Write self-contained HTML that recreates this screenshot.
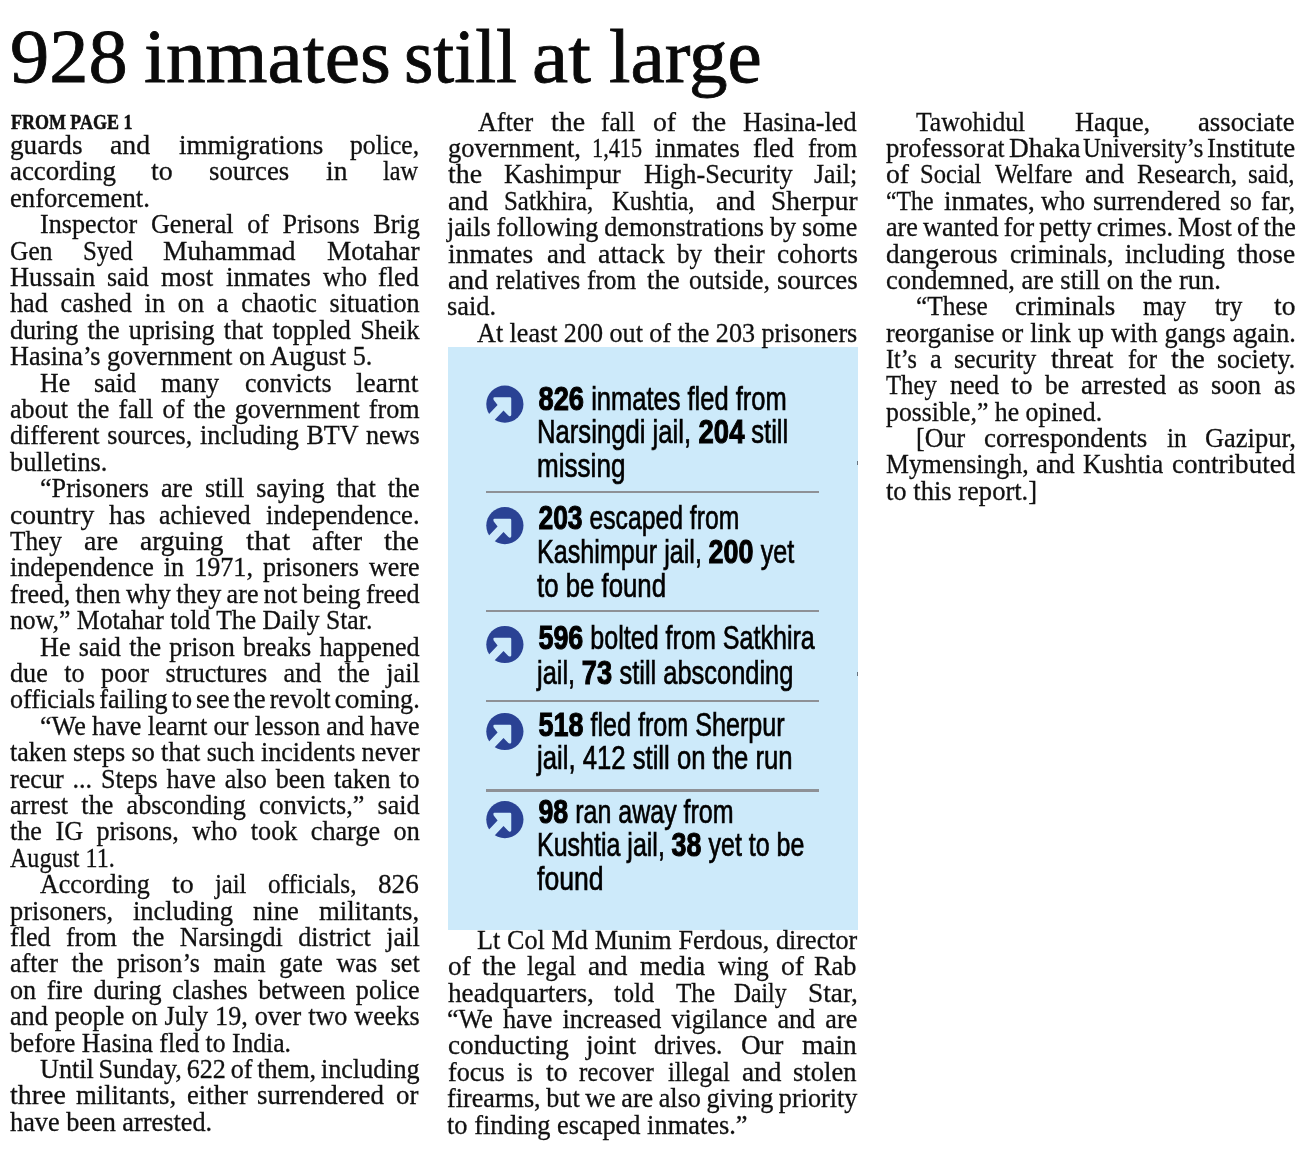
<!DOCTYPE html>
<html><head><meta charset="utf-8"><title>928 inmates still at large</title>
<style>
html,body{margin:0;padding:0;background:#fff;}
html{width:1306px;height:1156px;overflow:hidden;}
body{width:1306px;height:1156px;position:relative;overflow:hidden;font-family:"Liberation Serif",serif;color:#111;}
.l{-webkit-text-stroke:0.3px #111;position:absolute;white-space:pre;font-size:28.0px;line-height:30.0px;transform-origin:0 0;transform:scaleX(0.93393);}
.h{-webkit-text-stroke:0.8px #0a0a0a;position:absolute;white-space:pre;font-size:76.0px;line-height:80.0px;transform-origin:0 0;color:#0a0a0a;}
.fp{-webkit-text-stroke:0.5px #111;position:absolute;white-space:pre;font-size:20.0px;line-height:24px;font-weight:bold;transform-origin:0 0;}
.tx{position:absolute;left:0;top:0;width:1306px;height:1156px;will-change:transform;}
.box{position:absolute;left:448px;top:347.1px;width:410px;height:582.5px;background:#cdeafa;}
.t{-webkit-text-stroke:0.7px #000;position:absolute;left:537.2px;white-space:pre;font-family:"Liberation Sans",sans-serif;font-size:34.0px;line-height:36.0px;color:#000;transform-origin:0 0;transform:scaleX(0.74412);}
.t b{-webkit-text-stroke:1.1px #000;display:inline-block;transform-origin:0 50%;transform:scaleX(1.07);}
.mk{position:absolute;left:856.8px;width:1.2px;height:4.2px;background:#66737f;}
.sep{position:absolute;left:486.3px;width:332.6px;height:2.2px;background:#8e9196;}
.ic{position:absolute;overflow:hidden;}
</style></head><body>
<div class="tx">
<div class="h" style="left:10.10px;top:16.35px;transform:scaleX(1.0313)">928</div>
<div class="h" style="left:143.50px;top:16.35px;transform:scaleX(1.0442)">inmates</div>
<div class="h" style="left:404.00px;top:16.35px;transform:scaleX(0.9914)">still</div>
<div class="h" style="left:532.00px;top:16.35px;transform:scaleX(1.0726)">at</div>
<div class="h" style="left:608.50px;top:16.35px;transform:scaleX(1.0142)">large</div>
<div class="fp" style="left:10.6px;top:110.00px;transform:scaleX(0.898)">FROM PAGE 1</div>
</div>
<div class="box"></div>
<div class="sep" style="top:490.55px"></div>
<div class="sep" style="top:609.60px"></div>
<div class="sep" style="top:699.55px"></div>
<div class="sep" style="top:789.40px"></div>
<div class="mk" style="top:460.9px"></div><div class="mk" style="top:671.9px"></div>
<svg class="ic" style="left:485px;top:384px" width="40" height="40" viewBox="0 0 40 40"><g transform="translate(1.27 1.50) scale(1.0054)"><circle cx="18.5" cy="18.5" r="18.5" fill="#2a4294"/><path d="M7.1 12.6 Q7.1 11.7 8.2 11.7 L23.7 11.7 Q24.85 11.7 24.85 12.9 L24.85 29.2 Q24.8 30.8 23.15 30.5 Q22.3 30.3 21.7 29.7 L17.15 24.95 L5 37.7 L-2 33.4 L11.25 19.4 L7.4 14.4 Q7.0 13.6 7.1 12.6 Z" fill="#cdeafa"/></g></svg>
<svg class="ic" style="left:485px;top:506px" width="40" height="40" viewBox="0 0 40 40"><g transform="translate(1.27 1.00) scale(1.0054)"><circle cx="18.5" cy="18.5" r="18.5" fill="#2a4294"/><path d="M7.1 12.6 Q7.1 11.7 8.2 11.7 L23.7 11.7 Q24.85 11.7 24.85 12.9 L24.85 29.2 Q24.8 30.8 23.15 30.5 Q22.3 30.3 21.7 29.7 L17.15 24.95 L5 37.7 L-2 33.4 L11.25 19.4 L7.4 14.4 Q7.0 13.6 7.1 12.6 Z" fill="#cdeafa"/></g></svg>
<svg class="ic" style="left:485px;top:624px" width="40" height="40" viewBox="0 0 40 40"><g transform="translate(1.27 1.90) scale(1.0054)"><circle cx="18.5" cy="18.5" r="18.5" fill="#2a4294"/><path d="M7.1 12.6 Q7.1 11.7 8.2 11.7 L23.7 11.7 Q24.85 11.7 24.85 12.9 L24.85 29.2 Q24.8 30.8 23.15 30.5 Q22.3 30.3 21.7 29.7 L17.15 24.95 L5 37.7 L-2 33.4 L11.25 19.4 L7.4 14.4 Q7.0 13.6 7.1 12.6 Z" fill="#cdeafa"/></g></svg>
<svg class="ic" style="left:485px;top:711px" width="40" height="40" viewBox="0 0 40 40"><g transform="translate(1.27 1.90) scale(1.0054)"><circle cx="18.5" cy="18.5" r="18.5" fill="#2a4294"/><path d="M7.1 12.6 Q7.1 11.7 8.2 11.7 L23.7 11.7 Q24.85 11.7 24.85 12.9 L24.85 29.2 Q24.8 30.8 23.15 30.5 Q22.3 30.3 21.7 29.7 L17.15 24.95 L5 37.7 L-2 33.4 L11.25 19.4 L7.4 14.4 Q7.0 13.6 7.1 12.6 Z" fill="#cdeafa"/></g></svg>
<svg class="ic" style="left:485px;top:800px" width="40" height="40" viewBox="0 0 40 40"><g transform="translate(1.27 1.00) scale(1.0054)"><circle cx="18.5" cy="18.5" r="18.5" fill="#2a4294"/><path d="M7.1 12.6 Q7.1 11.7 8.2 11.7 L23.7 11.7 Q24.85 11.7 24.85 12.9 L24.85 29.2 Q24.8 30.8 23.15 30.5 Q22.3 30.3 21.7 29.7 L17.15 24.95 L5 37.7 L-2 33.4 L11.25 19.4 L7.4 14.4 Q7.0 13.6 7.1 12.6 Z" fill="#cdeafa"/></g></svg>
<div class="tx">
<div class="t" style="top:379.55px;transform:scaleX(0.74957)"><b style="margin-left:2.1px;margin-right:0.1168em">826</b> inmates fled from</div>
<div class="t" style="top:413.30px;transform:scaleX(0.75502)">Narsingdi jail, <b style="margin-right:0.1168em">204</b> still</div>
<div class="t" style="top:446.86px;transform:scaleX(0.76724)">missing</div>
<div class="t" style="top:498.95px;transform:scaleX(0.72677)"><b style="margin-left:2.1px;margin-right:0.1168em">203</b> escaped from</div>
<div class="t" style="top:533.10px;transform:scaleX(0.73952)">Kashimpur jail, <b style="margin-right:0.1168em">200</b> yet</div>
<div class="t" style="top:566.60px;transform:scaleX(0.75844)">to be found</div>
<div class="t" style="top:619.40px;transform:scaleX(0.73774)"><b style="margin-left:2.1px;margin-right:0.1168em">596</b> bolted from Satkhira</div>
<div class="t" style="top:653.60px;transform:scaleX(0.74764)">jail, <b style="margin-right:0.0778em">73</b> still absconding</div>
<div class="t" style="top:706.30px;transform:scaleX(0.73933)"><b style="margin-left:2.1px;margin-right:0.1168em">518</b> fled from Sherpur</div>
<div class="t" style="top:739.45px;transform:scaleX(0.75544)">jail, 412 still on the run</div>
<div class="t" style="top:793.10px;transform:scaleX(0.73510)"><b style="margin-left:2.1px;margin-right:0.0778em">98</b> ran away from</div>
<div class="t" style="top:826.40px;transform:scaleX(0.73529)">Kushtia jail, <b style="margin-right:0.0778em">38</b> yet to be</div>
<div class="t" style="top:859.55px;transform:scaleX(0.78271)">found</div>
<div class="l" style="left:9.57px;top:129.97px;transform:scaleX(0.9708)">guards</div>
<div class="l" style="left:110.39px;top:129.97px;transform:scaleX(0.9915)">and</div>
<div class="l" style="left:178.82px;top:129.97px;transform:scaleX(0.9660)">immigrations</div>
<div class="l" style="left:350.09px;top:129.97px;transform:scaleX(0.9167)">police,</div>
<div class="l" style="left:9.57px;top:156.37px;transform:scaleX(0.9590)">according</div>
<div class="l" style="left:151.45px;top:156.37px;transform:scaleX(0.9977)">to</div>
<div class="l" style="left:208.87px;top:156.37px;transform:scaleX(0.9544)">sources</div>
<div class="l" style="left:326.05px;top:156.37px;transform:scaleX(0.9824)">in</div>
<div class="l" style="left:383.47px;top:156.37px;transform:scaleX(0.8677)">law</div>
<div class="l" style="left:9.60px;top:182.77px;transform:scaleX(0.95175);">enforcement.</div>
<div class="l" style="left:39.60px;top:209.17px;word-spacing:7.551px;">Inspector General of Prisons Brig</div>
<div class="l" style="left:10.23px;top:235.57px;transform:scaleX(0.9094)">Gen</div>
<div class="l" style="left:83.01px;top:235.57px;transform:scaleX(0.8888)">Syed</div>
<div class="l" style="left:163.13px;top:235.57px;transform:scaleX(0.9797)">Muhammad</div>
<div class="l" style="left:326.72px;top:235.57px;transform:scaleX(0.9752)">Motahar</div>
<div class="l" style="left:10.23px;top:261.97px;transform:scaleX(0.9438)">Hussain</div>
<div class="l" style="left:107.05px;top:261.97px;transform:scaleX(0.9258)">said</div>
<div class="l" style="left:160.80px;top:261.97px;transform:scaleX(0.9567)">most</div>
<div class="l" style="left:225.90px;top:261.97px;transform:scaleX(0.9740)">inmates</div>
<div class="l" style="left:322.71px;top:261.97px;transform:scaleX(0.9143)">who</div>
<div class="l" style="left:378.46px;top:261.97px;transform:scaleX(0.9364)">fled</div>
<div class="l" style="left:9.60px;top:288.36px;word-spacing:6.763px;">had cashed in on a chaotic situation</div>
<div class="l" style="left:9.60px;top:314.76px;word-spacing:2.968px;">during the uprising that toppled Sheik</div>
<div class="l" style="left:9.60px;top:341.16px;transform:scaleX(0.93756);">Hasina’s government on August 5.</div>
<div class="l" style="left:39.61px;top:367.56px;transform:scaleX(0.9211)">He</div>
<div class="l" style="left:94.03px;top:367.56px;transform:scaleX(0.9332)">said</div>
<div class="l" style="left:161.46px;top:367.56px;transform:scaleX(0.9341)">many</div>
<div class="l" style="left:244.93px;top:367.56px;transform:scaleX(0.9270)">convicts</div>
<div class="l" style="left:356.10px;top:367.56px;transform:scaleX(0.9798)">learnt</div>
<div class="l" style="left:9.60px;top:393.96px;word-spacing:2.877px;">about the fall of the government from</div>
<div class="l" style="left:9.60px;top:420.36px;word-spacing:1.253px;">different sources, including BTV news</div>
<div class="l" style="left:9.60px;top:446.76px;transform:scaleX(0.94180);">bulletins.</div>
<div class="l" style="left:39.60px;top:473.16px;word-spacing:5.884px;">“Prisoners are still saying that the</div>
<div class="l" style="left:9.57px;top:499.56px;transform:scaleX(0.9840)">country</div>
<div class="l" style="left:109.05px;top:499.56px;transform:scaleX(0.9757)">has</div>
<div class="l" style="left:159.13px;top:499.56px;transform:scaleX(0.9197)">achieved</div>
<div class="l" style="left:265.62px;top:499.56px;transform:scaleX(0.9545)">independence.</div>
<div class="l" style="left:9.57px;top:525.96px;transform:scaleX(0.9000)">They</div>
<div class="l" style="left:83.68px;top:525.96px;transform:scaleX(0.9970)">are</div>
<div class="l" style="left:139.76px;top:525.96px;transform:scaleX(0.9819)">arguing</div>
<div class="l" style="left:245.93px;top:525.96px;transform:scaleX(1.0500)">that</div>
<div class="l" style="left:312.36px;top:525.96px;transform:scaleX(0.9768)">after</div>
<div class="l" style="left:384.14px;top:525.96px;transform:scaleX(1.0253)">the</div>
<div class="l" style="left:9.60px;top:552.35px;word-spacing:3.734px;">independence in 1971, prisoners were</div>
<div class="l" style="left:9.60px;top:578.75px;word-spacing:-1.304px;">freed, then why they are not being freed</div>
<div class="l" style="left:9.60px;top:605.15px;transform:scaleX(0.91720);">now,” Motahar told The Daily Star.</div>
<div class="l" style="left:39.60px;top:631.55px;word-spacing:1.847px;">He said the prison breaks happened</div>
<div class="l" style="left:9.60px;top:657.95px;word-spacing:10.648px;">due to poor structures and the jail</div>
<div class="l" style="left:9.60px;top:684.35px;word-spacing:-2.612px;">officials failing to see the revolt coming.</div>
<div class="l" style="left:39.60px;top:710.75px;word-spacing:-0.281px;">“We have learnt our lesson and have</div>
<div class="l" style="left:9.60px;top:737.15px;word-spacing:-0.240px;">taken steps so that such incidents never</div>
<div class="l" style="left:9.60px;top:763.55px;word-spacing:2.466px;">recur ... Steps have also been taken to</div>
<div class="l" style="left:9.60px;top:789.95px;word-spacing:7.230px;">arrest the absconding convicts,” said</div>
<div class="l" style="left:9.60px;top:816.34px;word-spacing:7.489px;">the IG prisons, who took charge on</div>
<div class="l" style="left:9.60px;top:842.74px;transform:scaleX(0.85919);">August 11.</div>
<div class="l" style="left:39.61px;top:869.14px;transform:scaleX(0.9296)">According</div>
<div class="l" style="left:172.15px;top:869.14px;transform:scaleX(0.9977)">to</div>
<div class="l" style="left:214.88px;top:869.14px;transform:scaleX(0.8783)">jail</div>
<div class="l" style="left:268.29px;top:869.14px;transform:scaleX(0.9009)">officials,</div>
<div class="l" style="left:378.46px;top:869.14px;transform:scaleX(0.9705)">826</div>
<div class="l" style="left:9.57px;top:895.54px;transform:scaleX(0.9410)">prisoners,</div>
<div class="l" style="left:133.09px;top:895.54px;transform:scaleX(0.9441)">including</div>
<div class="l" style="left:253.27px;top:895.54px;transform:scaleX(0.9492)">nine</div>
<div class="l" style="left:319.04px;top:895.54px;transform:scaleX(0.9541)">militants,</div>
<div class="l" style="left:9.60px;top:921.94px;word-spacing:9.512px;">fled from the Narsingdi district jail</div>
<div class="l" style="left:9.60px;top:948.34px;word-spacing:7.541px;">after the prison’s main gate was set</div>
<div class="l" style="left:9.60px;top:974.74px;word-spacing:4.234px;">on fire during clashes between police</div>
<div class="l" style="left:9.60px;top:1001.14px;word-spacing:0.459px;">and people on July 19, over two weeks</div>
<div class="l" style="left:9.60px;top:1027.54px;transform:scaleX(0.91495);">before Hasina fled to India.</div>
<div class="l" style="left:39.60px;top:1053.93px;word-spacing:-1.853px;">Until Sunday, 622 of them, including</div>
<div class="l" style="left:10.23px;top:1080.33px;transform:scaleX(0.9967)">three</div>
<div class="l" style="left:76.33px;top:1080.33px;transform:scaleX(0.9541)">militants,</div>
<div class="l" style="left:186.50px;top:1080.33px;transform:scaleX(0.9536)">either</div>
<div class="l" style="left:257.28px;top:1080.33px;transform:scaleX(0.9602)">surrendered</div>
<div class="l" style="left:396.16px;top:1080.33px;transform:scaleX(0.9602)">or</div>
<div class="l" style="left:9.60px;top:1106.73px;transform:scaleX(0.93859);">have been arrested.</div>
<div class="l" style="left:477.95px;top:106.65px;transform:scaleX(0.9329)">After</div>
<div class="l" style="left:550.73px;top:106.65px;transform:scaleX(0.9961)">the</div>
<div class="l" style="left:601.47px;top:106.65px;transform:scaleX(0.9135)">fall</div>
<div class="l" style="left:652.55px;top:106.65px;transform:scaleX(0.9888)">of</div>
<div class="l" style="left:691.94px;top:106.65px;transform:scaleX(0.9961)">the</div>
<div class="l" style="left:743.35px;top:106.65px;transform:scaleX(0.9360)">Hasina-led</div>
<div class="l" style="left:447.90px;top:133.02px;transform:scaleX(0.9442)">government,</div>
<div class="l" style="left:592.46px;top:133.02px;transform:scaleX(0.7954)">1,415</div>
<div class="l" style="left:655.22px;top:133.02px;transform:scaleX(0.9740)">inmates</div>
<div class="l" style="left:753.37px;top:133.02px;transform:scaleX(0.9364)">fled</div>
<div class="l" style="left:807.79px;top:133.02px;transform:scaleX(0.9021)">from</div>
<div class="l" style="left:447.90px;top:159.39px;transform:scaleX(0.9961)">the</div>
<div class="l" style="left:503.99px;top:159.39px;transform:scaleX(0.9392)">Kashimpur</div>
<div class="l" style="left:644.20px;top:159.39px;transform:scaleX(0.9367)">High-Security</div>
<div class="l" style="left:814.46px;top:159.39px;transform:scaleX(0.9234)">Jail;</div>
<div class="l" style="left:447.90px;top:185.76px;transform:scaleX(0.9915)">and</div>
<div class="l" style="left:503.99px;top:185.76px;transform:scaleX(0.8889)">Satkhira,</div>
<div class="l" style="left:612.49px;top:185.76px;transform:scaleX(0.8766)">Kushtia,</div>
<div class="l" style="left:715.98px;top:185.76px;transform:scaleX(0.9667)">and</div>
<div class="l" style="left:771.06px;top:185.76px;transform:scaleX(0.9757)">Sherpur</div>
<div class="l" style="left:447.30px;top:212.13px;word-spacing:-0.606px;">jails following demonstrations by some</div>
<div class="l" style="left:447.90px;top:238.50px;transform:scaleX(0.9778)">inmates</div>
<div class="l" style="left:546.72px;top:238.50px;transform:scaleX(0.9585)">and</div>
<div class="l" style="left:598.13px;top:238.50px;transform:scaleX(0.9994)">attack</div>
<div class="l" style="left:676.59px;top:238.50px;transform:scaleX(0.8954)">by</div>
<div class="l" style="left:714.31px;top:238.50px;transform:scaleX(0.9896)">their</div>
<div class="l" style="left:776.74px;top:238.50px;transform:scaleX(0.9804)">cohorts</div>
<div class="l" style="left:447.90px;top:264.87px;transform:scaleX(0.9915)">and</div>
<div class="l" style="left:496.31px;top:264.87px;transform:scaleX(0.8874)">relatives</div>
<div class="l" style="left:587.45px;top:264.87px;transform:scaleX(0.9021)">from</div>
<div class="l" style="left:646.54px;top:264.87px;transform:scaleX(0.9570)">the</div>
<div class="l" style="left:688.60px;top:264.87px;transform:scaleX(0.9196)">outside,</div>
<div class="l" style="left:776.74px;top:264.87px;transform:scaleX(0.9624)">sources</div>
<div class="l" style="left:447.30px;top:291.24px;transform:scaleX(0.94208);">said.</div>
<div class="l" style="left:477.30px;top:317.61px;word-spacing:-0.154px;">At least 200 out of the 203 prisoners</div>
<div class="l" style="left:477.30px;top:924.75px;word-spacing:0.244px;">Lt Col Md Munim Ferdous, director</div>
<div class="l" style="left:447.90px;top:951.17px;transform:scaleX(0.9745)">of</div>
<div class="l" style="left:481.62px;top:951.17px;transform:scaleX(0.9961)">the</div>
<div class="l" style="left:527.36px;top:951.17px;transform:scaleX(0.9023)">legal</div>
<div class="l" style="left:588.12px;top:951.17px;transform:scaleX(0.9750)">and</div>
<div class="l" style="left:639.86px;top:951.17px;transform:scaleX(0.9519)">media</div>
<div class="l" style="left:717.65px;top:951.17px;transform:scaleX(0.9067)">wing</div>
<div class="l" style="left:781.08px;top:951.17px;transform:scaleX(0.9888)">of</div>
<div class="l" style="left:814.46px;top:951.17px;transform:scaleX(0.9406)">Rab</div>
<div class="l" style="left:447.90px;top:977.59px;transform:scaleX(0.9725)">headquarters,</div>
<div class="l" style="left:614.16px;top:977.59px;transform:scaleX(0.9204)">told</div>
<div class="l" style="left:675.92px;top:977.59px;transform:scaleX(0.8980)">The</div>
<div class="l" style="left:734.34px;top:977.59px;transform:scaleX(0.8429)">Daily</div>
<div class="l" style="left:807.79px;top:977.59px;transform:scaleX(0.9763)">Star,</div>
<div class="l" style="left:447.30px;top:1004.01px;word-spacing:3.897px;">“We have increased vigilance and are</div>
<div class="l" style="left:447.90px;top:1030.43px;transform:scaleX(0.9716)">conducting</div>
<div class="l" style="left:586.45px;top:1030.43px;transform:scaleX(0.9759)">joint</div>
<div class="l" style="left:654.22px;top:1030.43px;transform:scaleX(0.9076)">drives.</div>
<div class="l" style="left:741.02px;top:1030.43px;transform:scaleX(0.9744)">Our</div>
<div class="l" style="left:802.11px;top:1030.43px;transform:scaleX(0.9783)">main</div>
<div class="l" style="left:447.90px;top:1056.85px;transform:scaleX(0.9362)">focus</div>
<div class="l" style="left:517.34px;top:1056.85px;transform:scaleX(0.8414)">is</div>
<div class="l" style="left:545.72px;top:1056.85px;transform:scaleX(0.9824)">to</div>
<div class="l" style="left:579.10px;top:1056.85px;transform:scaleX(0.8913)">recover</div>
<div class="l" style="left:668.24px;top:1056.85px;transform:scaleX(0.8830)">illegal</div>
<div class="l" style="left:741.68px;top:1056.85px;transform:scaleX(0.9750)">and</div>
<div class="l" style="left:793.43px;top:1056.85px;transform:scaleX(0.9488)">stolen</div>
<div class="l" style="left:447.30px;top:1083.27px;word-spacing:-1.037px;">firearms, but we are also giving priority</div>
<div class="l" style="left:447.30px;top:1109.69px;transform:scaleX(0.94275);">to finding escaped inmates.”</div>
<div class="l" style="left:916.29px;top:106.74px;transform:scaleX(0.9149)">Tawohidul</div>
<div class="l" style="left:1074.86px;top:106.74px;transform:scaleX(0.9384)">Haque,</div>
<div class="l" style="left:1198.39px;top:106.74px;transform:scaleX(0.9550)">associate</div>
<div class="l" style="left:886.24px;top:133.10px;transform:scaleX(0.9518)">professor</div>
<div class="l" style="left:987.06px;top:133.10px;transform:scaleX(0.8602)">at</div>
<div class="l" style="left:1009.10px;top:133.10px;transform:scaleX(0.9781)">Dhaka</div>
<div class="l" style="left:1083.21px;top:133.10px;transform:scaleX(0.8782)">University’s</div>
<div class="l" style="left:1206.73px;top:133.10px;transform:scaleX(0.9608)">Institute</div>
<div class="l" style="left:886.24px;top:159.46px;transform:scaleX(0.9888)">of</div>
<div class="l" style="left:919.63px;top:159.46px;transform:scaleX(0.8780)">Social</div>
<div class="l" style="left:994.74px;top:159.46px;transform:scaleX(0.8814)">Welfare</div>
<div class="l" style="left:1084.88px;top:159.46px;transform:scaleX(0.9667)">and</div>
<div class="l" style="left:1136.63px;top:159.46px;transform:scaleX(0.9140)">Research,</div>
<div class="l" style="left:1248.46px;top:159.46px;transform:scaleX(0.8911)">said,</div>
<div class="l" style="left:886.24px;top:185.82px;transform:scaleX(0.8476)">“The</div>
<div class="l" style="left:943.66px;top:185.82px;transform:scaleX(0.9654)">inmates,</div>
<div class="l" style="left:1041.48px;top:185.82px;transform:scaleX(0.9143)">who</div>
<div class="l" style="left:1093.23px;top:185.82px;transform:scaleX(0.9652)">surrendered</div>
<div class="l" style="left:1230.10px;top:185.82px;transform:scaleX(0.8726)">so</div>
<div class="l" style="left:1260.81px;top:185.82px;transform:scaleX(0.9220)">far,</div>
<div class="l" style="left:885.60px;top:212.18px;word-spacing:-1.519px;">are wanted for petty crimes. Most of the</div>
<div class="l" style="left:886.24px;top:238.54px;transform:scaleX(0.9692)">dangerous</div>
<div class="l" style="left:1009.76px;top:238.54px;transform:scaleX(0.9309)">criminals,</div>
<div class="l" style="left:1124.94px;top:238.54px;transform:scaleX(0.9441)">including</div>
<div class="l" style="left:1236.78px;top:238.54px;transform:scaleX(0.9833)">those</div>
<div class="l" style="left:885.60px;top:264.90px;transform:scaleX(0.94641);">condemned, are still on the run.</div>
<div class="l" style="left:916.29px;top:291.26px;transform:scaleX(0.9056)">“These</div>
<div class="l" style="left:1015.44px;top:291.26px;transform:scaleX(0.9614)">criminals</div>
<div class="l" style="left:1143.30px;top:291.26px;transform:scaleX(0.8938)">may</div>
<div class="l" style="left:1215.08px;top:291.26px;transform:scaleX(0.8810)">try</div>
<div class="l" style="left:1273.50px;top:291.26px;transform:scaleX(0.9824)">to</div>
<div class="l" style="left:885.60px;top:317.62px;word-spacing:0.510px;">reorganise or link up with gangs again.</div>
<div class="l" style="left:886.24px;top:343.98px;transform:scaleX(0.8593)">It’s</div>
<div class="l" style="left:929.64px;top:343.98px;transform:scaleX(0.9421)">a</div>
<div class="l" style="left:954.01px;top:343.98px;transform:scaleX(0.9269)">security</div>
<div class="l" style="left:1051.49px;top:343.98px;transform:scaleX(0.9798)">threat</div>
<div class="l" style="left:1128.28px;top:343.98px;transform:scaleX(0.8904)">for</div>
<div class="l" style="left:1171.01px;top:343.98px;transform:scaleX(0.9863)">the</div>
<div class="l" style="left:1216.75px;top:343.98px;transform:scaleX(0.9249)">society.</div>
<div class="l" style="left:886.24px;top:370.34px;transform:scaleX(0.8826)">They</div>
<div class="l" style="left:949.67px;top:370.34px;transform:scaleX(0.9290)">need</div>
<div class="l" style="left:1011.43px;top:370.34px;transform:scaleX(0.9824)">to</div>
<div class="l" style="left:1045.49px;top:370.34px;transform:scaleX(0.9104)">be</div>
<div class="l" style="left:1080.54px;top:370.34px;transform:scaleX(0.9611)">arrested</div>
<div class="l" style="left:1178.36px;top:370.34px;transform:scaleX(0.8887)">as</div>
<div class="l" style="left:1210.74px;top:370.34px;transform:scaleX(0.9471)">soon</div>
<div class="l" style="left:1273.50px;top:370.34px;transform:scaleX(0.9173)">as</div>
<div class="l" style="left:885.60px;top:396.70px;transform:scaleX(0.92025);">possible,” he opined.</div>
<div class="l" style="left:916.29px;top:423.06px;transform:scaleX(0.9287)">[Our</div>
<div class="l" style="left:984.06px;top:423.06px;transform:scaleX(0.9632)">correspondents</div>
<div class="l" style="left:1166.67px;top:423.06px;transform:scaleX(0.9058)">in</div>
<div class="l" style="left:1205.06px;top:423.06px;transform:scaleX(0.9456)">Gazipur,</div>
<div class="l" style="left:886.24px;top:449.42px;transform:scaleX(0.9212)">Mymensingh,</div>
<div class="l" style="left:1035.80px;top:449.42px;transform:scaleX(0.9585)">and</div>
<div class="l" style="left:1083.21px;top:449.42px;transform:scaleX(0.9202)">Kushtia</div>
<div class="l" style="left:1171.68px;top:449.42px;transform:scaleX(0.9662)">contributed</div>
<div class="l" style="left:885.60px;top:475.78px;transform:scaleX(0.94780);">to this report.]</div>
</div>
</body></html>
